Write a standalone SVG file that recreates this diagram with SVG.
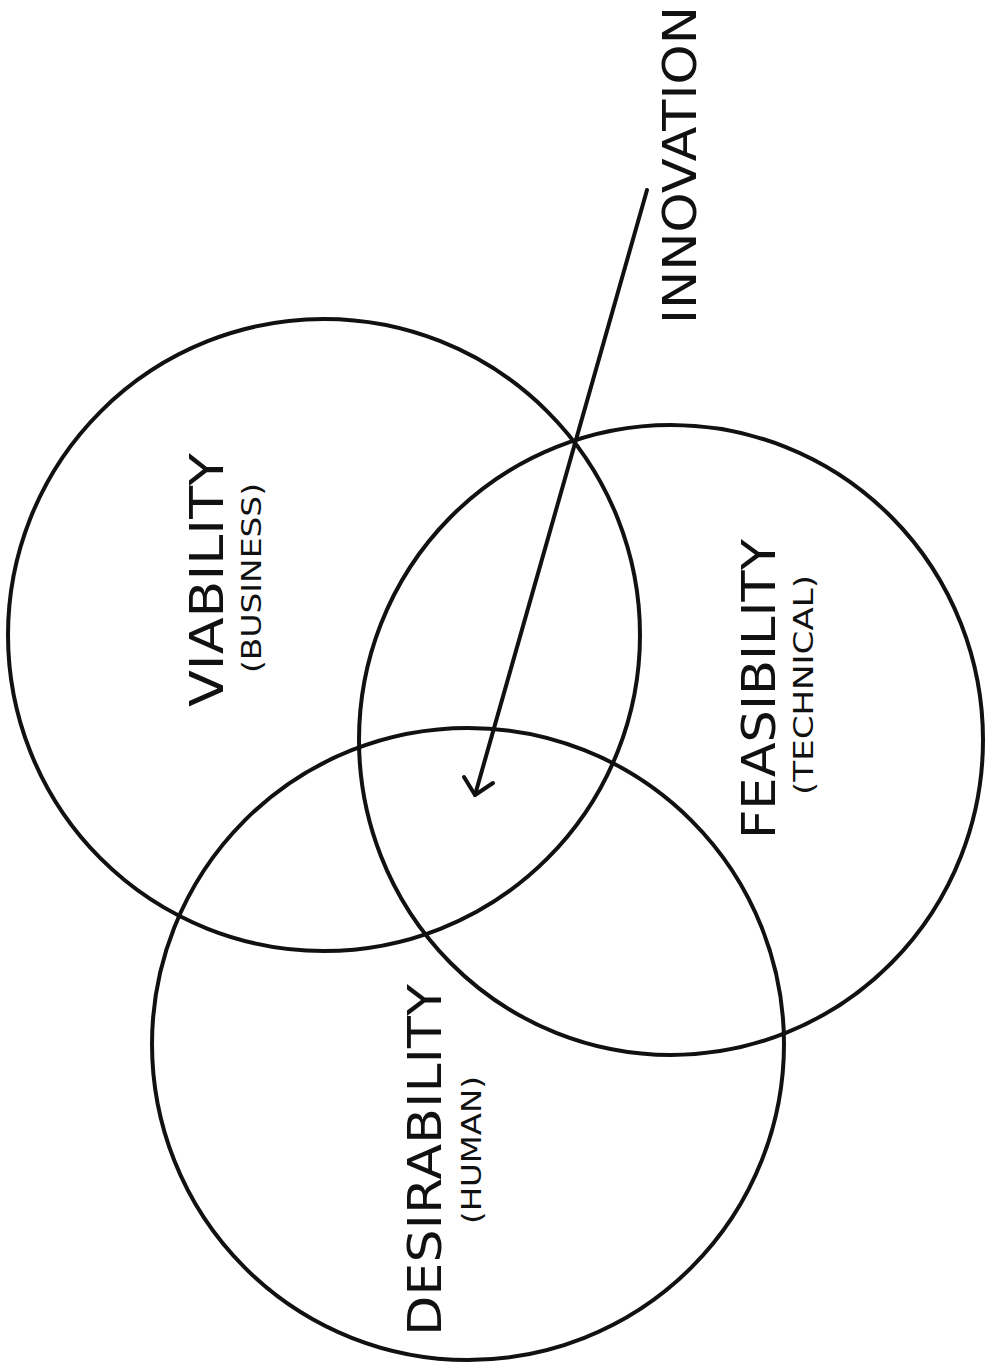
<svg xmlns="http://www.w3.org/2000/svg" width="987" height="1365" viewBox="0 0 987 1365">
<style>
.c{fill:none;stroke:#111;stroke-width:4}
.big{font-family:"DejaVu Sans","Liberation Sans",sans-serif;font-size:46px;fill:#111;text-anchor:middle}
.small{font-family:"DejaVu Sans","Liberation Sans",sans-serif;font-size:27px;fill:#111;text-anchor:middle}
.ln{fill:none;stroke:#111;stroke-width:4;stroke-linecap:round;stroke-linejoin:round}
</style>
<rect width="987" height="1365" fill="#fff"/>
<g id="viability">
<circle class="c" cx="324" cy="635" r="316"/>
<text class="big" transform="translate(223,580) rotate(-90)" textLength="254" lengthAdjust="spacingAndGlyphs">VIABILITY</text>
<text class="small" transform="translate(261,578) rotate(-90)" textLength="190" lengthAdjust="spacingAndGlyphs">(BUSINESS)</text>
</g>
<g id="feasibility">
<ellipse class="c" cx="671" cy="740" rx="312" ry="315"/>
<text class="big" transform="translate(775,689) rotate(-90)" textLength="300" lengthAdjust="spacingAndGlyphs">FEASIBILITY</text>
<text class="small" transform="translate(813,685) rotate(-90)" textLength="220" lengthAdjust="spacingAndGlyphs">(TECHNICAL)</text>
</g>
<g id="desirability">
<circle class="c" cx="468" cy="1044" r="316"/>
<text class="big" transform="translate(441,1160) rotate(-90)" textLength="352" lengthAdjust="spacingAndGlyphs">DESIRABILITY</text>
<text class="small" transform="translate(481,1150) rotate(-90)" textLength="148" lengthAdjust="spacingAndGlyphs">(HUMAN)</text>
</g>
<g id="innovation">
<text class="big" transform="translate(696,165) rotate(-90)" textLength="318" lengthAdjust="spacingAndGlyphs">INNOVATION</text>
</g>
<g id="connectors">
<line class="ln" x1="647" y1="190" x2="475" y2="795"/>
<polyline class="ln" points="464,777 475,795 493,783"/>
</g>
</svg>
